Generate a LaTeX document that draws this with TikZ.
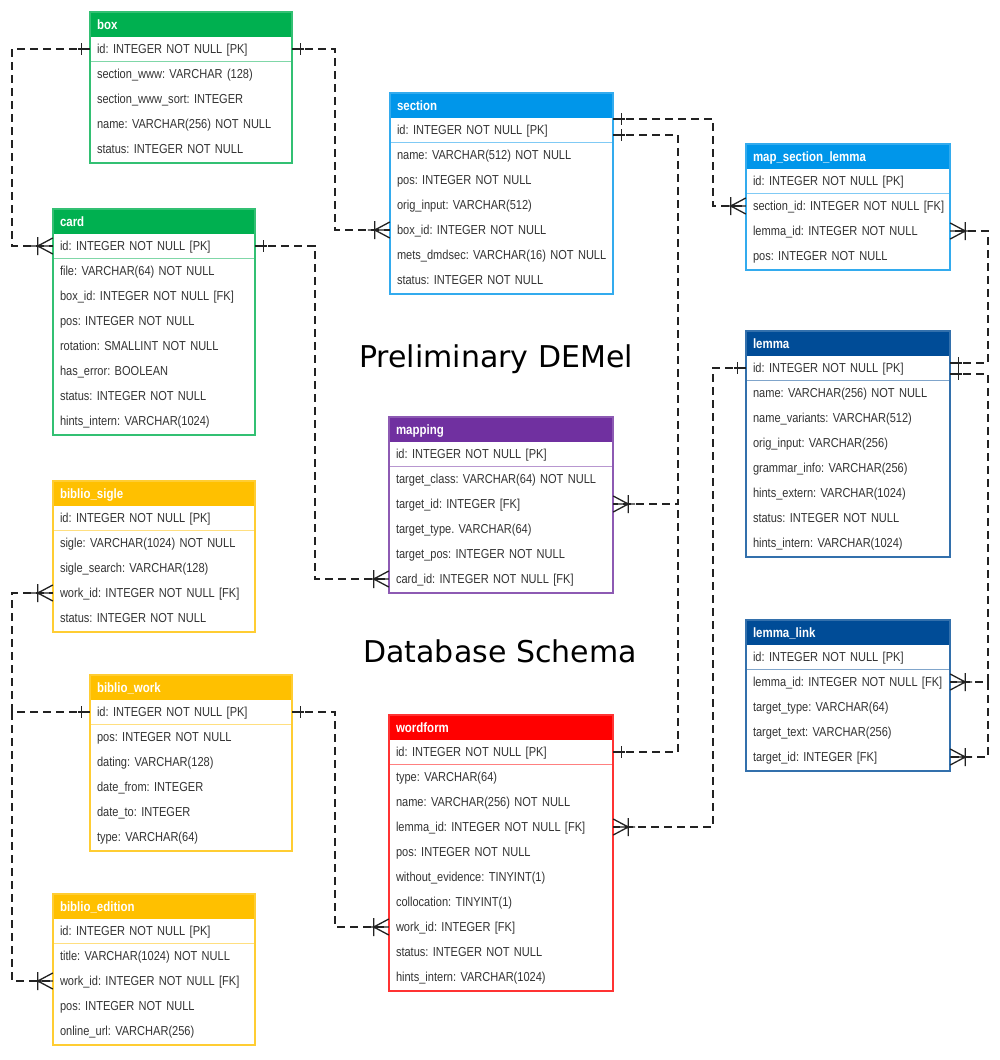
\documentclass[tikz,border=0pt]{standalone}
\usepackage{fontspec}
\setmainfont{Liberation Sans}
\newfontfamily\rowfont[FakeStretch=0.85,WordSpace=0.8]{Liberation Sans}
\newfontfamily\titlefont{DejaVu Sans}
\usetikzlibrary{calc}
\definecolor{cgreen}{HTML}{00B050}
\definecolor{cblue}{HTML}{0096EA}
\definecolor{cdblue}{HTML}{004C97}
\definecolor{cpurple}{HTML}{7030A0}
\definecolor{cyellow}{HTML}{FFC000}
\definecolor{cred}{HTML}{FF0000}
\definecolor{txt}{HTML}{333333}
\definecolor{lnk}{HTML}{222222}
\tikzset{
  hdr/.style={font=\rowfont\bfseries\fontsize{13.5}{15}\selectfont\frenchspacing, text=white, inner xsep=7pt, inner ysep=0pt, align=left, text height=9.5pt, text depth=0pt},
  rowtxt/.style={font=\rowfont\fontsize{13}{15}\selectfont\frenchspacing, text=txt, inner xsep=7pt, inner ysep=0pt, align=left, minimum height=25pt, text height=9.3pt, text depth=0pt},
  conn/.style={draw=lnk, line width=1.3pt, dash pattern=on 8pt off 5pt},
  mk/.style={draw=lnk, line width=1.3pt, solid},
  ttl/.style={font=\titlefont\fontsize{30}{36}\selectfont, text=black, anchor=base, inner sep=0pt},
  crowW/.pic={\draw[mk] (0,-8) -- (-15,0) -- (0,8) (-15,-9) -- (-15,9) (-22,0) -- (0,0);},
  crowE/.pic={\draw[mk] (0,-8) -- (15,0) -- (0,8) (15,-9) -- (15,9) (22,0) -- (0,0);},
  oneW/.pic={\draw[mk] (-8,-6) -- (-8,6) (-12,0) -- (0,0);},
  oneE/.pic={\draw[mk] (8,-6) -- (8,6) (12,0) -- (0,0);},
}
% name, x, top, width, color, title, n, rows
\newcommand\ertable[8]{%
  \pgfmathsetmacro\ertw{#4-14}%
  \fill[#5] (#2,#3) rectangle ++(#4,25);
  \node[hdr,text width=\ertw pt] (#1-h) at (#2+#4/2,#3+12.5) {#6};
  \foreach \t [count=\i from 0] in {#8} {
    \node[rowtxt,text width=\ertw pt] (#1-\i) at (#2+#4/2,#3+37+25*\i) {\mbox{\t}};
  }
  \draw[#5!50,line width=0.8pt] (#2,#3+49.5) -- ++(#4,0);
  \draw[#5!80,line width=1.3pt] (#2,#3) rectangle ++(#4,26+25*#7);
}
\begin{document}
\begin{tikzpicture}[x=1pt,y=-1pt]
\useasboundingbox (0,0) rectangle (1000,1060);
\fill[white] (0,0) rectangle (1000,1060);

\node[ttl] (title1) at (496,367) {Preliminary DEMel};
\node[ttl] (title2) at (500,662) {Database Schema};

\ertable{box}{90}{12}{202}{cgreen}{box}{5}{{id: INTEGER NOT NULL [PK]},{section\_www: VARCHAR (128)},{section\_www\_sort: INTEGER},{name: VARCHAR(256) NOT NULL},{status: INTEGER NOT NULL}}

\ertable{card}{53}{209}{202}{cgreen}{card}{8}{{id: INTEGER NOT NULL [PK]},{file: VARCHAR(64) NOT NULL},{box\_id: INTEGER NOT NULL [FK]},{pos: INTEGER NOT NULL},{rotation: SMALLINT NOT NULL},{has\_error: BOOLEAN},{status: INTEGER NOT NULL},{hints\_intern: VARCHAR(1024)}}

\ertable{sec}{390}{93}{223}{cblue}{section}{7}{{id: INTEGER NOT NULL [PK]},{name: VARCHAR(512) NOT NULL},{pos: INTEGER NOT NULL},{orig\_input: VARCHAR(512)},{box\_id: INTEGER NOT NULL},{mets\_dmdsec: VARCHAR(16) NOT NULL},{status: INTEGER NOT NULL}}

\ertable{msl}{746}{144}{204}{cblue}{map\_section\_lemma}{4}{{id: INTEGER NOT NULL [PK]},{section\_id: INTEGER NOT NULL [FK]},{lemma\_id: INTEGER NOT NULL},{pos: INTEGER NOT NULL}}

\ertable{lem}{746}{331}{204}{cdblue}{lemma}{8}{{id: INTEGER NOT NULL [PK]},{name: VARCHAR(256) NOT NULL},{name\_variants: VARCHAR(512)},{orig\_input: VARCHAR(256)},{grammar\_info: VARCHAR(256)},{hints\_extern: VARCHAR(1024)},{status: INTEGER NOT NULL},{hints\_intern: VARCHAR(1024)}}

\ertable{map}{389}{417}{224}{cpurple}{mapping}{6}{{id: INTEGER NOT NULL [PK]},{target\_class: VARCHAR(64) NOT NULL},{target\_id: INTEGER [FK]},{target\_type. VARCHAR(64)},{target\_pos: INTEGER NOT NULL},{card\_id: INTEGER NOT NULL [FK]}}

\ertable{bs}{53}{481}{202}{cyellow}{biblio\_sigle}{5}{{id: INTEGER NOT NULL [PK]},{sigle: VARCHAR(1024) NOT NULL},{sigle\_search: VARCHAR(128)},{work\_id: INTEGER NOT NULL [FK]},{status: INTEGER NOT NULL}}

\ertable{bw}{90}{675}{202}{cyellow}{biblio\_work}{6}{{id: INTEGER NOT NULL [PK]},{pos: INTEGER NOT NULL},{dating: VARCHAR(128)},{date\_from: INTEGER},{date\_to: INTEGER},{type: VARCHAR(64)}}

\ertable{be}{53}{894}{202}{cyellow}{biblio\_edition}{5}{{id: INTEGER NOT NULL [PK]},{title: VARCHAR(1024) NOT NULL},{work\_id: INTEGER NOT NULL [FK]},{pos: INTEGER NOT NULL},{online\_url: VARCHAR(256)}}

\ertable{wf}{389}{715}{224}{cred}{wordform}{10}{{id: INTEGER NOT NULL [PK]},{type: VARCHAR(64)},{name: VARCHAR(256) NOT NULL},{lemma\_id: INTEGER NOT NULL [FK]},{pos: INTEGER NOT NULL},{without\_evidence: TINYINT(1)},{collocation: TINYINT(1)},{work\_id: INTEGER [FK]},{status: INTEGER NOT NULL},{hints\_intern: VARCHAR(1024)}}

\ertable{ll}{746}{620}{204}{cdblue}{lemma\_link}{5}{{id: INTEGER NOT NULL [PK]},{lemma\_id: INTEGER NOT NULL [FK]},{target\_type: VARCHAR(64)},{target\_text: VARCHAR(256)},{target\_id: INTEGER [FK]}}

% routing columns
\coordinate (vL) at (12,0);
\coordinate (vB) at (335,0);
\coordinate (vC) at (315,0);
\coordinate (vS) at (713,0);
\coordinate (vM) at (678,0);
\coordinate (vR) at (988,0);
\coordinate (secA) at ($(sec-0.east)+(0,-11)$);
\coordinate (secB) at ($(sec-0.east)+(0,5)$);
\coordinate (lemA) at ($(lem-0.east)+(0,-5)$);
\coordinate (lemB) at ($(lem-0.east)+(0,6)$);

% box -> card
\draw[conn] (box-0.west) -- (box-0.west -| vL) -- (card-0.west -| vL) -- (card-0.west);
\pic at (box-0.west) {oneW};
\pic at (card-0.west) {crowW};
% box -> section
\draw[conn] (box-0.east) -- (box-0.east -| vB) -- (sec-4.west -| vB) -- (sec-4.west);
\pic at (box-0.east) {oneE};
\pic at (sec-4.west) {crowW};
% card -> mapping
\draw[conn] (card-0.east) -- (card-0.east -| vC) -- (map-5.west -| vC) -- (map-5.west);
\pic at (card-0.east) {oneE};
\pic at (map-5.west) {crowW};
% section -> map_section_lemma
\draw[conn] (secA) -- (secA -| vS) -- (msl-1.west -| vS) -- (msl-1.west);
\pic at (secA) {oneE};
\pic at (msl-1.west) {crowW};
% section -> mapping
\draw[conn] (secB) -- (secB -| vM) -- (map-2.east -| vM) -- (map-2.east);
\pic at (secB) {oneE};
\pic at (map-2.east) {crowE};
% wordform -> mapping
\draw[conn] (wf-0.east) -- (wf-0.east -| vM) -- (map-2.east -| vM);
\pic at (wf-0.east) {oneE};
% lemma -> map_section_lemma
\draw[conn] (lemA) -- (lemA -| vR) -- (msl-2.east -| vR) -- (msl-2.east);
\pic at (lemA) {oneE};
\pic at (msl-2.east) {crowE};
% lemma -> lemma_link
\draw[conn] (lemB) -- (lemB -| vR) -- (ll-1.east -| vR) -- (ll-1.east);
\draw[conn] (ll-1.east -| vR) -- (ll-4.east -| vR) -- (ll-4.east);
\pic at (lemB) {oneE};
\pic at (ll-1.east) {crowE};
\pic at (ll-4.east) {crowE};
% lemma -> wordform
\draw[conn] (lem-0.west) -- (lem-0.west -| vS) -- (wf-3.east -| vS) -- (wf-3.east);
\pic at (lem-0.west) {oneW};
\pic at (wf-3.east) {crowE};
% biblio_work -> biblio_sigle, biblio_edition
\draw[conn] (bw-0.west) -- (bw-0.west -| vL) -- (bs-3.west -| vL) -- (bs-3.west);
\draw[conn] (bw-0.west -| vL) -- (be-2.west -| vL) -- (be-2.west);
\pic at (bw-0.west) {oneW};
\pic at (bs-3.west) {crowW};
\pic at (be-2.west) {crowW};
% biblio_work -> wordform
\draw[conn] (bw-0.east) -- (bw-0.east -| vB) -- (wf-7.west -| vB) -- (wf-7.west);
\pic at (bw-0.east) {oneE};
\pic at (wf-7.west) {crowW};
\end{tikzpicture}
\end{document}
